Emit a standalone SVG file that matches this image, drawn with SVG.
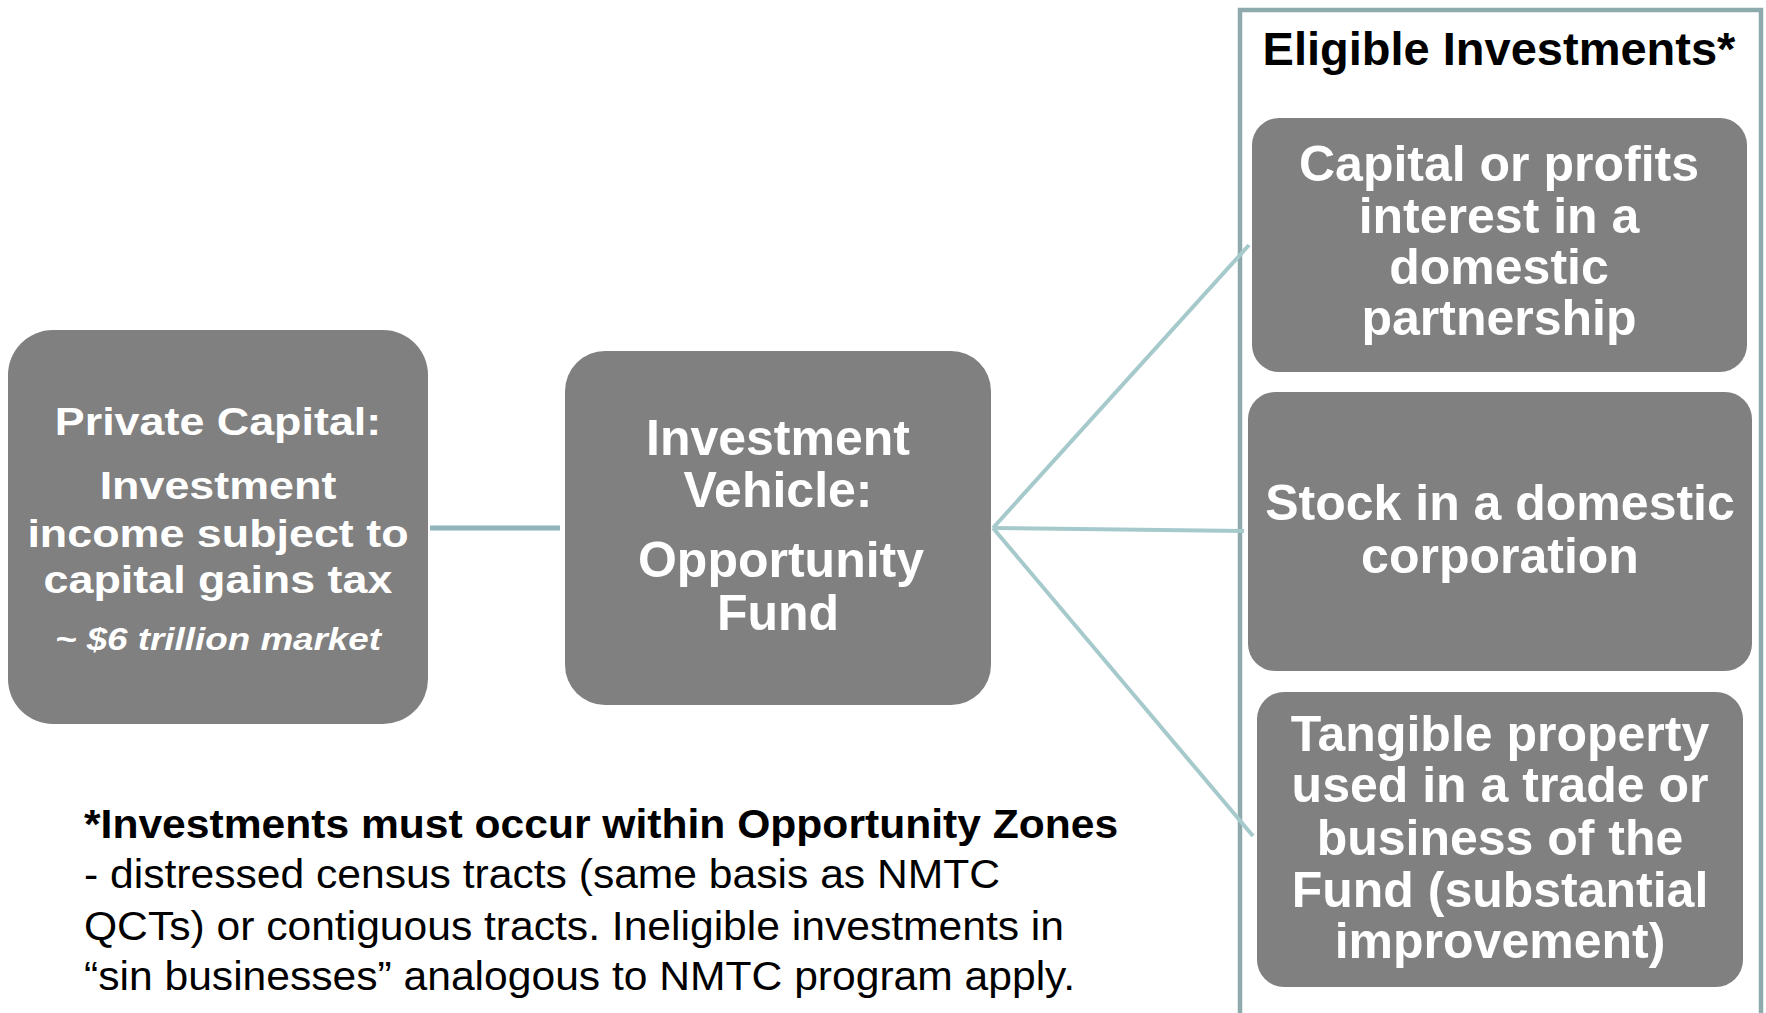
<svg xmlns="http://www.w3.org/2000/svg" width="1766" height="1013" viewBox="0 0 1766 1013">
<style>
.box{fill:#808080;}
.wt{fill:#ffffff;font-family:"Liberation Sans",Arial,sans-serif;font-weight:bold;text-anchor:middle;}
.bt{fill:#000000;font-family:"Liberation Sans",Arial,sans-serif;}
.conn{stroke:#a6cacc;stroke-width:4;fill:none;stroke-linecap:butt;}
</style>
<rect width="1766" height="1013" fill="#ffffff"/>
<g id="eligible-frame">
<rect x="1240" y="10" width="521" height="1010" fill="none" stroke="#8eaaad" stroke-width="4.5"/>
<text class="bt" x="1499" y="65" font-size="47" font-weight="bold" text-anchor="middle">Eligible Investments*</text>
</g>
<g id="connectors">
<line x1="430" y1="528" x2="560" y2="528" stroke="#90b4b8" stroke-width="5"/>
<line class="conn" x1="993" y1="528" x2="1249" y2="245"/>
<line class="conn" x1="993" y1="528" x2="1244" y2="531"/>
<line class="conn" x1="993" y1="528" x2="1253" y2="836"/>
</g>
<g id="private-capital">
<rect class="box" x="8" y="330" width="420" height="394" rx="45" ry="45"/>
<g transform="matrix(1.15,0,0,1,-32.7,0)">
<text class="wt" x="218" y="435" font-size="39">Private Capital:</text>
<text class="wt" x="218" y="499" font-size="39">Investment</text>
<text class="wt" x="218" y="547" font-size="39">income subject to</text>
<text class="wt" x="218" y="593" font-size="39">capital gains tax</text>
<text class="wt" x="218" y="650" font-size="32" font-style="italic">~ $6 trillion market</text>
</g>
</g>
<g id="investment-vehicle">
<rect class="box" x="565" y="351" width="426" height="354" rx="40" ry="40"/>
<text class="wt" x="778" y="455" font-size="50">Investment</text>
<text class="wt" x="778" y="507" font-size="50">Vehicle:</text>
<text class="wt" x="781" y="577" font-size="50">Opportunity</text>
<text class="wt" x="778" y="630" font-size="50">Fund</text>
</g>
<g id="capital-profits">
<rect class="box" x="1252" y="118" width="495" height="254" rx="27" ry="27"/>
<text class="wt" x="1499" y="181" font-size="50">Capital or profits</text>
<text class="wt" x="1499" y="233" font-size="50">interest in a</text>
<text class="wt" x="1499" y="284" font-size="50">domestic</text>
<text class="wt" x="1499" y="335" font-size="50">partnership</text>
</g>
<g id="stock">
<rect class="box" x="1248" y="392" width="504" height="279" rx="27" ry="27"/>
<text class="wt" x="1500" y="520" font-size="50">Stock in a domestic</text>
<text class="wt" x="1500" y="573" font-size="50">corporation</text>
</g>
<g id="tangible-property">
<rect class="box" x="1257" y="692" width="486" height="295" rx="27" ry="27"/>
<text class="wt" x="1500" y="751" font-size="50">Tangible property</text>
<text class="wt" x="1500" y="802" font-size="50">used in a trade or</text>
<text class="wt" x="1500" y="855" font-size="50">business of the</text>
<text class="wt" x="1500" y="907" font-size="50">Fund (substantial</text>
<text class="wt" x="1500" y="958" font-size="50">improvement)</text>
</g>
<g id="footnote" transform="matrix(1.065,0,0,1,-5.46,0)">
<text class="bt" x="84" y="838" font-size="40" font-weight="bold">*Investments must occur within Opportunity Zones</text>
<text class="bt" x="84" y="888" font-size="40">- distressed census tracts (same basis as NMTC</text>
<text class="bt" x="84" y="940" font-size="40">QCTs) or contiguous tracts. Ineligible investments in</text>
<text class="bt" x="84" y="990" font-size="40">“sin businesses” analogous to NMTC program apply.</text>
</g>
</svg>
